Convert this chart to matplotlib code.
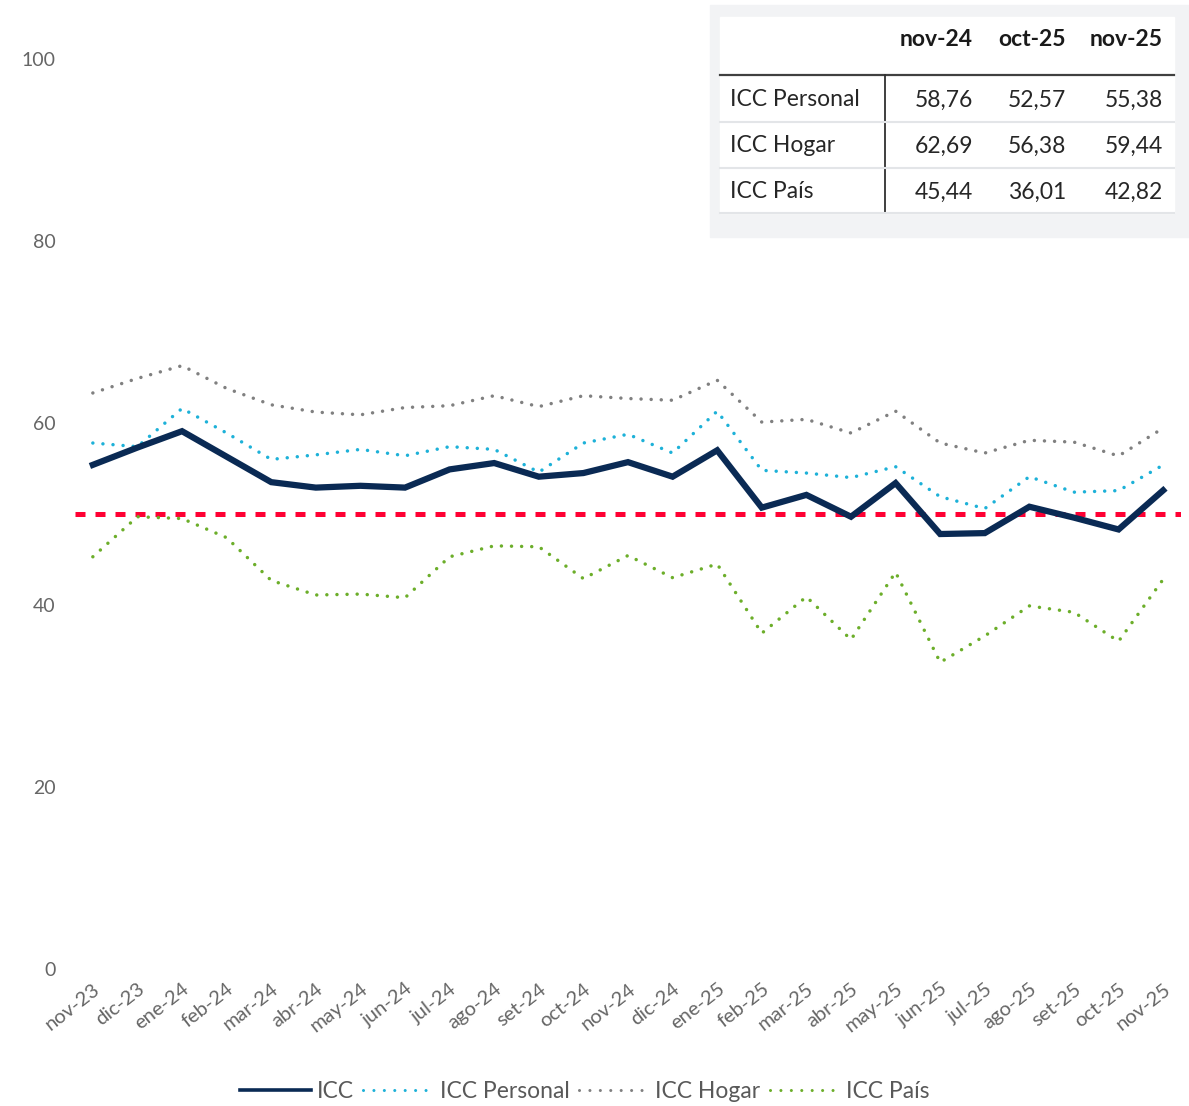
import matplotlib
matplotlib.use("Agg")
import matplotlib.pyplot as plt
from matplotlib.lines import Line2D
from matplotlib.patches import Rectangle

plt.rcParams['font.family'] = ['Lato', 'DejaVu Sans']

months = ['nov-23', 'dic-23', 'ene-24', 'feb-24', 'mar-24', 'abr-24', 'may-24',
          'jun-24', 'jul-24', 'ago-24', 'set-24', 'oct-24', 'nov-24', 'dic-24',
          'ene-25', 'feb-25', 'mar-25', 'abr-25', 'may-25', 'jun-25', 'jul-25',
          'ago-25', 'set-25', 'oct-25', 'nov-25']
icc = [55.4, 57.3, 59.1, 56.3, 53.5, 52.9, 53.1, 52.9, 54.9, 55.6, 54.1, 54.5,
       55.7, 54.1, 57.0, 50.7, 52.1, 49.7, 53.4, 47.8, 47.9, 50.8, 49.6, 48.3, 52.6]
icc_personal = [57.8, 57.4, 61.6, 58.9, 56.0, 56.5, 57.1, 56.4, 57.4, 57.1, 54.6, 57.8,
                58.76, 56.7, 61.3, 54.8, 54.5, 54.0, 55.2, 51.9, 50.6, 54.1, 52.4, 52.57, 55.38]
icc_hogar = [63.3, 64.9, 66.3, 63.8, 62.0, 61.2, 60.9, 61.7, 61.9, 63.0, 61.8, 63.0,
             62.69, 62.5, 64.7, 60.1, 60.4, 58.9, 61.3, 57.8, 56.7, 58.1, 57.9, 56.38, 59.44]
icc_pais = [45.3, 49.7, 49.5, 47.4, 42.7, 41.1, 41.2, 40.8, 45.3, 46.5, 46.4, 42.9,
            45.44, 43.0, 44.5, 36.9, 40.9, 36.2, 43.6, 33.7, 36.6, 39.9, 39.2, 36.01, 42.82]
umbral = 50

table_cols = ['nov-24', 'oct-25', 'nov-25']
table_rows = ['ICC Personal', 'ICC Hogar', 'ICC País']
table_vals = [['58,76', '52,57', '55,38'],
              ['62,69', '56,38', '59,44'],
              ['45,44', '36,01', '42,82']]

W, H = 1189, 1106
fig = plt.figure(figsize=(W / 100, H / 100), dpi=100)


def fx(x):
    return x / W


def fy(y):
    return 1 - y / H


ax = fig.add_axes([fx(75), fy(969), fx(1181) - fx(75), fy(59) - fy(969)])
x = list(range(len(months)))

c_icc = '#0a2a54'
c_per = '#1db1d8'
c_hog = '#808080'
c_pai = '#6cae2a'
c_red = '#ff0033'

dots = (0, (0.01, 2.9))
ax.axhline(umbral, color=c_red, lw=3.6, linestyle=(0, (2.0, 2.0)), zorder=2)
ax.plot(x, icc_hogar, color=c_hog, lw=2.5, linestyle=dots, dash_capstyle='round', zorder=3)
ax.plot(x, icc_personal, color=c_per, lw=2.5, linestyle=dots, dash_capstyle='round', zorder=3)
ax.plot(x, icc_pais, color=c_pai, lw=2.5, linestyle=dots, dash_capstyle='round', zorder=3)
ax.plot(x, icc, color=c_icc, lw=4.5, solid_joinstyle='miter', zorder=4)

ax.set_xlim(-0.4, 24.4)
ax.set_ylim(0, 100)
ax.set_yticks([0, 20, 40, 60, 80, 100])
ax.set_xticks(x)
ax.set_xticklabels(months, rotation=38, ha='right', rotation_mode='anchor')
ax.tick_params(axis='y', length=0, pad=14, labelsize=14, labelcolor='#666666')
ax.tick_params(axis='x', length=0, pad=8, labelsize=14.5, labelcolor='#666666')
for s in ax.spines.values():
    s.set_visible(False)

# legend
handles = [
    Line2D([], [], color=c_icc, lw=2.6),
    Line2D([], [], color=c_per, lw=2.2, linestyle=(0, (0.01, 3.4)), dash_capstyle='round'),
    Line2D([], [], color=c_hog, lw=2.2, linestyle=(0, (0.01, 3.4)), dash_capstyle='round'),
    Line2D([], [], color=c_pai, lw=2.2, linestyle=(0, (0.01, 3.4)), dash_capstyle='round'),
]
fig.legend(handles, ['ICC', 'ICC Personal', 'ICC Hogar', 'ICC País'],
           loc='center', bbox_to_anchor=(fx(585), fy(1092)), ncol=4, frameon=False,
           fontsize=16.5, handlelength=3.1, handletextpad=0.25, columnspacing=0.4,
           labelcolor='#595959')

# table
fig.patches.append(Rectangle((fx(710), fy(237)), fx(1189) - fx(710), fy(5) - fy(237),
                             transform=fig.transFigure, color='#f2f3f5', zorder=0))
fig.patches.append(Rectangle((fx(720), fy(213)), fx(1174) - fx(720), fy(17) - fy(213),
                             transform=fig.transFigure, color='white', zorder=1))
fig.add_artist(Line2D([fx(720), fx(1174)], [fy(75), fy(75)], color='#404040', lw=1.6))
fig.add_artist(Line2D([fx(885), fx(885)], [fy(75), fy(213)], color='#303030', lw=1.3))
for yy in [122, 168, 213]:
    fig.add_artist(Line2D([fx(720), fx(1174)], [fy(yy), fy(yy)], color='#e3e5e8', lw=1.5))

col_right = [973, 1066, 1163]
row_y = [100, 146, 192]
for cx, name in zip(col_right, table_cols):
    fig.text(fx(cx), fy(40), name, ha='right', va='center', fontsize=16.5,
             fontweight='bold', color='#1a1a1a')
for ry, rname, vals in zip(row_y, table_rows, table_vals):
    fig.text(fx(730), fy(ry), rname, ha='left', va='center', fontsize=16.5, color='#262626')
    for cx, v in zip(col_right, vals):
        fig.text(fx(cx), fy(ry), v, ha='right', va='center', fontsize=16.5, color='#262626')

fig.savefig('out.png', dpi=100)
